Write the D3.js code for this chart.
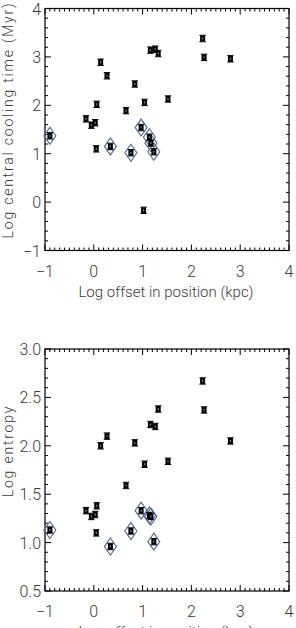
<!DOCTYPE html>
<html><head><meta charset="utf-8">
<script src="https://cdn.jsdelivr.net/npm/d3@7"></script>
<style>body{margin:0;background:#fff}svg{display:block}</style>
</head><body>
<script>
// Top panel: Log central cooling time vs Log offset
const topX = [-0.16,-0.05,0.03,0.06,0.05,0.14,0.27,0.66,0.84,1.04,1.02,1.16,1.26,1.32,1.52,2.23,2.26,2.80];
const topY = [1.72,1.59,1.64,2.02,1.10,2.89,2.61,1.89,2.44,2.06,-0.17,3.14,3.16,3.07,2.13,3.38,2.99,2.96];
const topDX = [-0.90,0.34,0.76,0.97,1.14,1.17,1.23];
const topDY = [1.37,1.15,1.02,1.54,1.34,1.22,1.04];
// Bottom panel: Log entropy vs Log offset
const botX = [0.14,0.27,0.84,1.04,1.16,1.26,1.32,1.52,2.23,2.26,2.80,0.66,-0.16,-0.05,0.03,0.06,0.05];
const botY = [2.00,2.10,2.03,1.81,2.22,2.20,2.38,1.84,2.67,2.37,2.05,1.59,1.33,1.27,1.29,1.38,1.10];
const botDX = [-0.90,0.34,0.76,0.97,1.14,1.17,1.23];
const botDY = [1.13,0.96,1.12,1.33,1.28,1.27,1.01];
const xTicks = [-1,0,1,2,3,4];
const topYTicks = [-1,0,1,2,3,4];
const botYTicks = [0.5,1.0,1.5,2.0,2.5,3.0];
const xLabel = "Log offset in position (kpc)";
const topYLabel = "Log central cooling time (Myr)";
const botYLabel = "Log entropy";

const W = 296, H = 628;
const svg = d3.select("body").append("svg").attr("width", W).attr("height", H);
const FONT = "Roboto, 'DejaVu Sans', sans-serif";
const TXT = "#3a3a3a";
const fmtMinus = s => String(s).replace("-", "\u2212");

function panel(oy, yDomain, yTicks, yMinorStep, yFmt, xs, ys, dxs, dys, yLabel, yLabelCenter, ySpacing) {
  const x = d3.scaleLinear().domain([-1, 4]).range([45, 289]);
  const y = d3.scaleLinear().domain(yDomain).range([oy + 242, oy]);
  const g = svg.append("g");
  const [x0, x1] = x.range();
  const [y0, y1] = [y.range()[1], y.range()[0]];
  // frame
  g.append("rect").attr("x", x0).attr("y", y0).attr("width", x1 - x0).attr("height", y1 - y0)
    .attr("fill", "none").attr("stroke", "#000").attr("stroke-width", 1.2);
  // x ticks (major + minor 0.1), bottom and top, inward
  const xMinor = d3.range(-1, 4.0001, 0.1);
  xMinor.forEach(v => {
    const major = Math.abs(v - Math.round(v)) < 1e-6;
    const L = major ? 6 : 3;
    const px = x(v);
    g.append("line").attr("x1", px).attr("x2", px).attr("y1", y1).attr("y2", y1 - L).attr("stroke", "#000").attr("stroke-width", 1);
    g.append("line").attr("x1", px).attr("x2", px).attr("y1", y0).attr("y2", y0 + L).attr("stroke", "#000").attr("stroke-width", 1);
  });
  // y ticks
  const yMin = yDomain[0], yMax = yDomain[1];
  const n = Math.round((yMax - yMin) / yMinorStep);
  for (let i = 0; i <= n; i++) {
    const v = yMin + i * yMinorStep;
    const major = yTicks.some(t => Math.abs(t - v) < 1e-6);
    const L = major ? 6 : 3;
    const py = y(v);
    g.append("line").attr("x1", x0).attr("x2", x0 + L).attr("y1", py).attr("y2", py).attr("stroke", "#000").attr("stroke-width", 1);
    g.append("line").attr("x1", x1).attr("x2", x1 - L).attr("y1", py).attr("y2", py).attr("stroke", "#000").attr("stroke-width", 1);
  }
  // tick labels
  xTicks.forEach(v => {
    g.append("text").attr("x", x(v)).attr("y", y1 + 26).attr("text-anchor", "middle")
      .attr("font-family", FONT).attr("font-weight", 300).attr("font-size", 16).attr("fill", TXT)
      .text(fmtMinus(v));
  });
  yTicks.forEach(v => {
    g.append("text").attr("x", x0 - 4).attr("y", y(v) + 6).attr("text-anchor", "end")
      .attr("font-family", FONT).attr("font-weight", 300).attr("font-size", 16).attr("fill", TXT)
      .text(fmtMinus(yFmt(v)));
  });
  // x label
  g.append("text").attr("x", 166).attr("y", y1 + 46).attr("text-anchor", "middle")
    .attr("font-family", FONT).attr("font-weight", 300).attr("font-size", 15).attr("fill", TXT)
    .text(xLabel);
  // y label
  g.append("text").attr("transform", `translate(13,${yLabelCenter}) rotate(-90)`).attr("text-anchor", "middle")
    .attr("font-family", FONT).attr("font-weight", 300).attr("font-size", 14).attr("letter-spacing", ySpacing).attr("fill", TXT)
    .text(yLabel);
  // diamonds
  dxs.forEach((v, i) => {
    const cx = x(v), cy = y(dys[i]);
    g.append("path").attr("d", `M${cx},${cy - 8.5}L${cx + 6},${cy}L${cx},${cy + 8.5}L${cx - 6},${cy}Z`)
      .attr("fill", "none").attr("stroke", "#4f6594").attr("stroke-width", 1.1);
  });
  // points (error-bar style markers)
  const allX = xs.concat(dxs), allY = ys.concat(dys);
  allX.forEach((v, i) => {
    const cx = x(v), cy = y(allY[i]);
    g.append("rect").attr("x", cx - 2.5).attr("y", cy - 3).attr("width", 5).attr("height", 6).attr("fill", "#000");
    g.append("line").attr("x1", cx - 3.2).attr("x2", cx + 3.2).attr("y1", cy - 3.2).attr("y2", cy - 3.2).attr("stroke", "#000").attr("stroke-width", 1);
    g.append("line").attr("x1", cx - 3.2).attr("x2", cx + 3.2).attr("y1", cy + 3.2).attr("y2", cy + 3.2).attr("stroke", "#000").attr("stroke-width", 1);
    g.append("rect").attr("x", cx - 0.6).attr("y", cy - 1).attr("width", 1.2).attr("height", 2).attr("fill", "#888");
  });
}

panel(8.5, [-1, 4], topYTicks, 0.2, d => d3.format("d")(d), topX, topY, topDX, topDY, topYLabel, 120, 1.8);
panel(349, [0.5, 3.0], botYTicks, 0.1, d => d3.format(".1f")(d), botX, botY, botDX, botDY, botYLabel, 451, 1.8);
</script>
</body></html>
